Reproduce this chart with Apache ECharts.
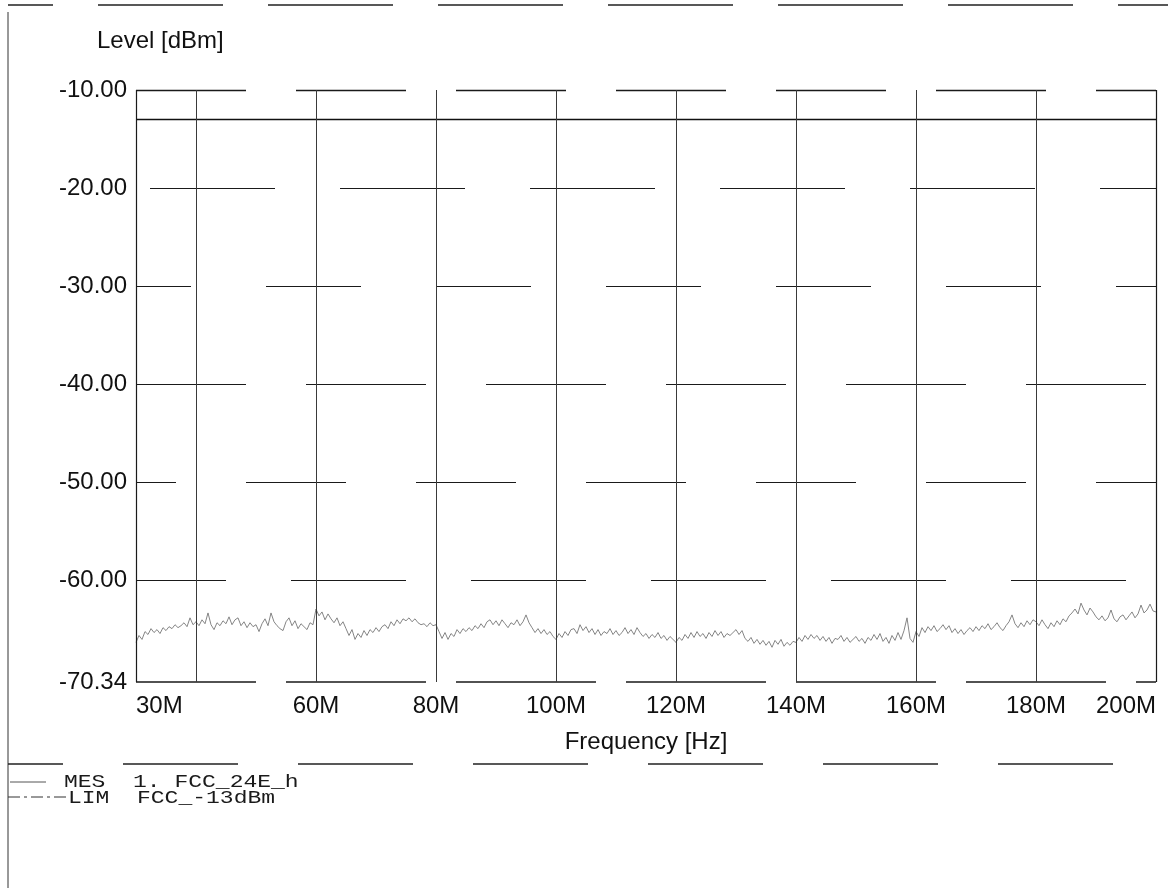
<!DOCTYPE html>
<html>
<head>
<meta charset="utf-8">
<script src="https://cdn.jsdelivr.net/npm/echarts@6/dist/echarts.min.js"></script>
<style>
html,body{margin:0;padding:0;background:#fff;}
#chart{width:1168px;height:888px;}
</style>
</head>
<body>
<div id="chart"></div>
<script>
// ---- data ----
const freqStartMHz = 30;
const freqStepMHz = 0.5;
const mesLevels = [
 -66.3,-65.6,-66.0,-65.2,-65.5,-64.9,-65.3,-65.0,-65.4,-64.8,
 -65.1,-64.7,-64.9,-64.5,-64.8,-64.6,-64.3,-64.7,-63.8,-64.5,
 -64.2,-64.6,-64.0,-64.4,-63.3,-64.5,-65.0,-64.3,-64.6,-64.1,
 -64.4,-63.7,-64.5,-64.0,-63.8,-64.6,-64.2,-64.8,-64.3,-64.7,
 -64.5,-65.2,-64.4,-63.9,-64.6,-63.3,-64.2,-64.6,-64.9,-65.1,
 -64.2,-63.8,-64.6,-64.1,-64.9,-64.4,-64.7,-65.0,-64.3,-64.5,
 -62.9,-63.6,-63.2,-64.0,-63.4,-63.9,-64.3,-63.8,-64.6,-64.2,
 -64.9,-65.6,-65.0,-66.0,-65.4,-65.8,-65.1,-65.6,-65.0,-65.3,
 -64.8,-65.2,-64.7,-64.5,-64.9,-64.2,-64.6,-64.0,-64.4,-63.9,
 -64.1,-63.8,-64.2,-63.9,-64.3,-64.5,-64.4,-64.7,-64.3,-64.6,
 -64.5,-65.2,-65.9,-65.3,-66.0,-65.4,-65.7,-65.0,-65.4,-64.9,
 -65.2,-64.8,-65.1,-64.6,-64.9,-64.4,-64.8,-64.2,-64.0,-64.5,
 -64.1,-64.6,-64.0,-64.4,-64.8,-64.3,-64.5,-64.0,-64.6,-64.2,
 -63.5,-64.3,-64.8,-65.3,-64.9,-65.4,-65.0,-65.5,-65.2,-65.7,
 -66.0,-65.4,-65.8,-65.2,-65.6,-65.0,-64.9,-65.4,-64.5,-65.1,
 -64.7,-65.3,-64.9,-65.5,-65.0,-65.6,-65.2,-65.4,-64.9,-65.5,
 -65.1,-65.6,-65.3,-64.8,-65.4,-65.0,-65.5,-64.8,-65.3,-65.7,
 -65.4,-65.9,-65.5,-65.8,-65.3,-65.9,-65.6,-66.1,-65.7,-66.0,
 -66.3,-65.8,-66.1,-65.5,-65.9,-65.3,-65.8,-65.2,-65.7,-65.4,
 -65.9,-65.3,-65.7,-65.1,-65.6,-65.2,-65.8,-65.4,-65.6,-65.3,
 -65.0,-65.5,-65.1,-65.9,-66.2,-65.8,-66.4,-66.0,-66.5,-66.1,
 -66.6,-66.2,-66.8,-66.1,-66.5,-66.0,-66.7,-66.3,-66.6,-66.2,
 -66.3,-65.8,-66.2,-65.6,-66.0,-65.5,-65.9,-65.6,-66.1,-65.7,
 -66.2,-65.8,-66.4,-65.9,-66.0,-65.6,-66.2,-65.8,-66.3,-66.0,
 -65.7,-66.2,-65.9,-66.4,-65.8,-66.1,-65.5,-66.0,-65.4,-66.2,
 -65.8,-66.4,-65.6,-66.1,-65.3,-66.0,-65.1,-63.8,-65.9,-66.3,
 -65.2,-65.7,-64.8,-65.3,-64.7,-65.1,-64.6,-65.2,-64.9,-64.5,
 -65.0,-64.6,-65.3,-64.9,-65.4,-65.0,-65.5,-65.1,-64.8,-65.2,
 -64.7,-65.1,-64.6,-64.9,-64.4,-65.0,-64.7,-64.3,-64.8,-65.1,
 -64.6,-64.2,-63.5,-64.4,-64.8,-64.3,-64.7,-64.1,-64.5,-64.0,
 -64.2,-64.6,-64.0,-64.5,-64.9,-64.3,-64.7,-64.1,-64.5,-63.9,
 -64.2,-63.6,-63.3,-62.9,-63.4,-62.3,-63.0,-63.5,-62.8,-63.2,
 -63.7,-64.0,-63.6,-64.1,-63.8,-63.0,-63.9,-64.2,-63.7,-63.5,
 -64.0,-63.6,-63.2,-63.8,-63.4,-62.5,-63.3,-63.0,-62.4,-63.1,
 -63.2
];
const limitFreqs = [30, 200];
const limitLevels = [-13, -13];
const xLabelValues = [30, 60, 80, 100, 120, 140, 160, 180, 200];
const xGridValues = [40, 60, 80, 100, 120, 140, 160, 180];
const yTickValues = [-70.34, -60, -50, -40, -30, -20, -10];
const yGridValues = [-20, -30, -40, -50, -60];
const xMin = 30, xMax = 200, yMin = -70.34, yMax = -10;
const legendLines = ['MES  1. FCC_24E_h', 'LIM  FCC_-13dBm'];
// ---------------------------------------

const mesData = mesLevels.map((v, i) => [freqStartMHz + i * freqStepMHz, v]);
const limData = limitFreqs.map((f, i) => [f, limitLevels[i]]);

const dashStyles = [
  {type: [125, 65], dashOffset: -14},
  {type: [95, 75], dashOffset: 40},
  {type: [120, 60], dashOffset: 10},
  {type: [100, 70], dashOffset: 60},
  {type: [115, 65], dashOffset: 25}
];

const hGridLines = yGridValues.map((v, i) => ({
  yAxis: v,
  lineStyle: Object.assign({color: '#1a1a1a', width: 1.2}, dashStyles[i % dashStyles.length])
}));
hGridLines.push({yAxis: yMax, lineStyle: {color: '#1a1a1a', width: 1.3, type: [110, 50], dashOffset: 0}});
hGridLines.push({yAxis: yMin, lineStyle: {color: '#1a1a1a', width: 1.6, type: [140, 30], dashOffset: 20}});
const vGridLines = xGridValues.map(v => ({xAxis: v, lineStyle: {color: '#3a3a3a', width: 1, type: 'solid'}}));
vGridLines.push({xAxis: xMin, lineStyle: {color: '#1a1a1a', width: 1.2, type: 'solid'}});
vGridLines.push({xAxis: xMax, lineStyle: {color: '#1a1a1a', width: 1.2, type: 'solid'}});

const chart = echarts.init(document.getElementById('chart'), null, {renderer: 'canvas'});
const FONT = 'Liberation Sans, Arial, sans-serif';
const MONO = 'Liberation Mono, Courier New, monospace';

function legendText(x, y, txt) {
  return {type: 'text', x: x, y: y, scaleY: 0.8,
    style: {text: txt, font: '23px ' + MONO, fill: '#1a1a1a', verticalAlign: 'middle'}};
}

const option = {
  animation: false,
  backgroundColor: '#ffffff',
  textStyle: {fontFamily: FONT},
  grid: {left: 136, right: 12, top: 90, bottom: 206, containLabel: false, outerBoundsMode: 'none'},
  xAxis: {
    type: 'value', min: xMin, max: xMax,
    name: 'Frequency [Hz]', nameLocation: 'middle', nameGap: 48,
    nameTextStyle: {fontSize: 24, color: '#111', fontFamily: FONT},
    axisLine: {show: false}, axisTick: {show: false}, splitLine: {show: false},
    axisLabel: {
      customValues: xLabelValues, formatter: v => v + 'M',
      fontSize: 24, color: '#111', margin: 12, fontFamily: FONT,
      alignMinLabel: 'left', alignMaxLabel: 'right'
    }
  },
  yAxis: {
    type: 'value', min: yMin, max: yMax,
    axisLine: {show: false}, axisTick: {show: false}, splitLine: {show: false},
    axisLabel: {
      customValues: yTickValues, formatter: v => v.toFixed(2),
      fontSize: 24, color: '#111', margin: 9, fontFamily: FONT
    }
  },
  series: [
    {
      name: 'grid', type: 'line', data: [], silent: true,
      markLine: {silent: true, symbol: 'none', label: {show: false}, animation: false,
        data: hGridLines.concat(vGridLines)}
    },
    {
      name: 'LIM', type: 'line', data: limData, symbol: 'none', silent: true,
      lineStyle: {color: '#111', width: 1.5}
    },
    {
      name: 'MES', type: 'line', data: mesData, symbol: 'none', silent: true,
      lineStyle: {color: '#777', width: 0.9}
    }
  ],
  graphic: [
    {type: 'text', left: 97, top: 29, style: {text: 'Level [dBm]', font: '24px ' + FONT, fill: '#111'}},
    // outer frame
    {type: 'line', shape: {x1: 8, y1: 12, x2: 8, y2: 888}, style: {stroke: '#333', lineWidth: 1}},
    {type: 'line', shape: {x1: 8, y1: 5, x2: 1168, y2: 5}, style: {stroke: '#222', lineWidth: 1.3, lineDash: [125, 45], lineDashOffset: 80}},
    {type: 'line', shape: {x1: 8, y1: 764, x2: 1168, y2: 764}, style: {stroke: '#222', lineWidth: 1.3, lineDash: [115, 60], lineDashOffset: 60}},
    // legend
    {type: 'line', shape: {x1: 10, y1: 782, x2: 46, y2: 782}, style: {stroke: '#555', lineWidth: 1}},
    {type: 'line', shape: {x1: 8, y1: 797, x2: 66, y2: 797}, style: {stroke: '#333', lineWidth: 1, lineDash: [12, 4, 3, 4]}},
    legendText(64, 782, legendLines[0]),
    legendText(68, 798, legendLines[1])
  ]
};
chart.setOption(option);
</script>
</body>
</html>
